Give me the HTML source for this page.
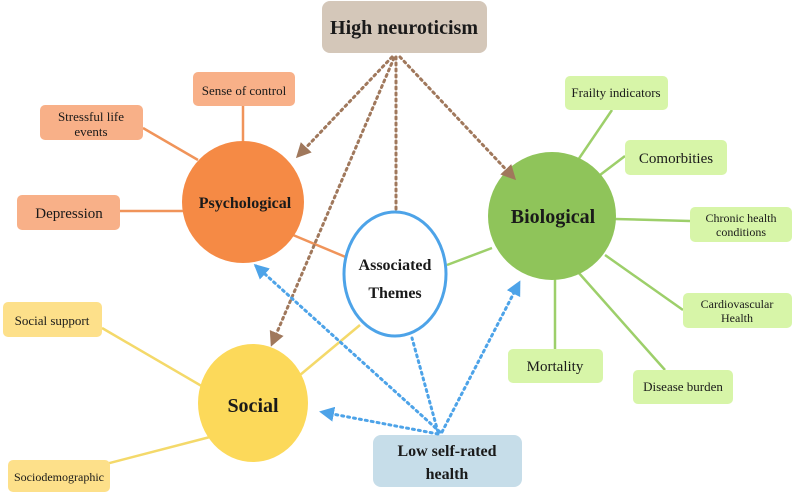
<!DOCTYPE html>
<html><head><style>body{margin:0;background:#fff}svg{display:block}text{font-family:"Liberation Serif",serif;fill:#1a1a1a}</style></head>
<body>
<svg width="800" height="497" viewBox="0 0 800 497">
<defs>
<marker id="ab" viewBox="0 0 10 10" refX="8" refY="5" markerWidth="5" markerHeight="5" orient="auto"><path d="M0,0L10,5L0,10z" fill="#a0785c"/></marker>
<marker id="ao" viewBox="0 0 10 10" refX="8" refY="5" markerWidth="5" markerHeight="5" orient="auto"><path d="M0,0L10,5L0,10z" fill="#4da3e8"/></marker>
</defs>
<!-- solid connectors -->
<g stroke="#f0945a" stroke-width="2.5">
<line x1="243" y1="106" x2="243" y2="142"/><line x1="143" y1="128" x2="198" y2="160"/><line x1="120" y1="211" x2="184" y2="211"/><line x1="293" y1="235" x2="348" y2="258"/>
</g>
<g stroke="#9dcf6a" stroke-width="2.5">
<line x1="447" y1="265" x2="492" y2="248"/><line x1="612" y1="110" x2="578" y2="160"/><line x1="625" y1="156" x2="600" y2="175"/><line x1="615" y1="219" x2="690" y2="221"/><line x1="683" y1="310" x2="605" y2="255"/><line x1="555" y1="278" x2="555" y2="349"/><line x1="578" y1="272" x2="665" y2="370"/>
</g>
<g stroke="#f4d96a" stroke-width="2.5">
<line x1="360" y1="325" x2="300" y2="375"/><line x1="102" y1="328" x2="205" y2="388"/><line x1="75" y1="472" x2="210" y2="437"/>
</g>
<!-- nodes -->
<rect x="322" y="1" width="165" height="52" rx="8" fill="#d4c7b9"/>
<text x="404" y="34" font-size="20" font-weight="bold" text-anchor="middle">High neuroticism</text>
<g fill="#f8b088">
<rect x="193" y="72" width="102" height="34" rx="5"/><rect x="40" y="105" width="103" height="35" rx="5"/><rect x="17" y="195" width="103" height="35" rx="5"/>
</g>
<text x="244" y="95" font-size="13" text-anchor="middle">Sense of control</text>
<text x="91" y="121" font-size="13" text-anchor="middle">Stressful life</text>
<text x="91" y="136" font-size="13" text-anchor="middle">events</text>
<text x="69" y="218" font-size="15" text-anchor="middle">Depression</text>
<circle cx="243" cy="202" r="61" fill="#f58a45"/>
<text x="245" y="208" font-size="16" font-weight="bold" text-anchor="middle">Psychological</text>
<circle cx="552" cy="216" r="64" fill="#8fc45a"/>
<text x="553" y="223" font-size="20" font-weight="bold" text-anchor="middle">Biological</text>
<g fill="#d7f5a8">
<rect x="565" y="76" width="103" height="34" rx="5"/><rect x="625" y="140" width="102" height="35" rx="5"/><rect x="690" y="207" width="102" height="35" rx="5"/><rect x="683" y="293" width="109" height="35" rx="5"/><rect x="508" y="349" width="95" height="34" rx="5"/><rect x="633" y="370" width="100" height="34" rx="5"/>
</g>
<text x="616" y="97" font-size="13" text-anchor="middle">Frailty indicators</text>
<text x="676" y="163" font-size="15" text-anchor="middle">Comorbities</text>
<text x="741" y="222" font-size="12" text-anchor="middle">Chronic health</text>
<text x="741" y="236" font-size="12" text-anchor="middle">conditions</text>
<text x="737" y="308" font-size="12" text-anchor="middle">Cardiovascular</text>
<text x="737" y="322" font-size="12" text-anchor="middle">Health</text>
<text x="555" y="371" font-size="15" text-anchor="middle">Mortality</text>
<text x="683" y="391" font-size="13" text-anchor="middle">Disease burden</text>
<ellipse cx="253" cy="403" rx="55" ry="59" fill="#fcd95a"/>
<text x="253" y="412" font-size="20" font-weight="bold" text-anchor="middle">Social</text>
<g fill="#fde08a">
<rect x="3" y="302" width="99" height="35" rx="5"/><rect x="8" y="460" width="102" height="32" rx="5"/>
</g>
<text x="52" y="325" font-size="13" text-anchor="middle">Social support</text>
<text x="59" y="481" font-size="12" text-anchor="middle">Sociodemographic</text>
<ellipse cx="395" cy="274" rx="51" ry="62" fill="#fff" stroke="#4da3e8" stroke-width="3"/>
<text x="395" y="270" font-size="16" font-weight="bold" text-anchor="middle">Associated</text>
<text x="395" y="298" font-size="16" font-weight="bold" text-anchor="middle">Themes</text>
<rect x="373" y="435" width="149" height="52" rx="8" fill="#c6dde9"/>
<text x="447" y="456" font-size="16" font-weight="bold" text-anchor="middle">Low self-rated</text>
<text x="447" y="479" font-size="16" font-weight="bold" text-anchor="middle">health</text>
<!-- dotted arrows -->
<g stroke="#a0785c" stroke-width="3" stroke-dasharray="2 4" stroke-linecap="round" fill="none">
<line x1="392" y1="57" x2="298" y2="156" marker-end="url(#ab)"/>
<line x1="400" y1="57" x2="514" y2="178" marker-end="url(#ab)"/>
<line x1="396" y1="57" x2="396" y2="212"/>
<line x1="394" y1="58" x2="272" y2="344" marker-end="url(#ab)"/>
</g>
<g stroke="#4da3e8" stroke-width="3" stroke-dasharray="2 4" stroke-linecap="round" fill="none">
<line x1="440" y1="432" x2="256" y2="266" marker-end="url(#ao)"/>
<line x1="442" y1="432" x2="519" y2="283" marker-end="url(#ao)"/>
<line x1="438" y1="434" x2="322" y2="412" marker-end="url(#ao)"/>
<line x1="438" y1="432" x2="412" y2="338"/>
</g>
</svg>
</body></html>
